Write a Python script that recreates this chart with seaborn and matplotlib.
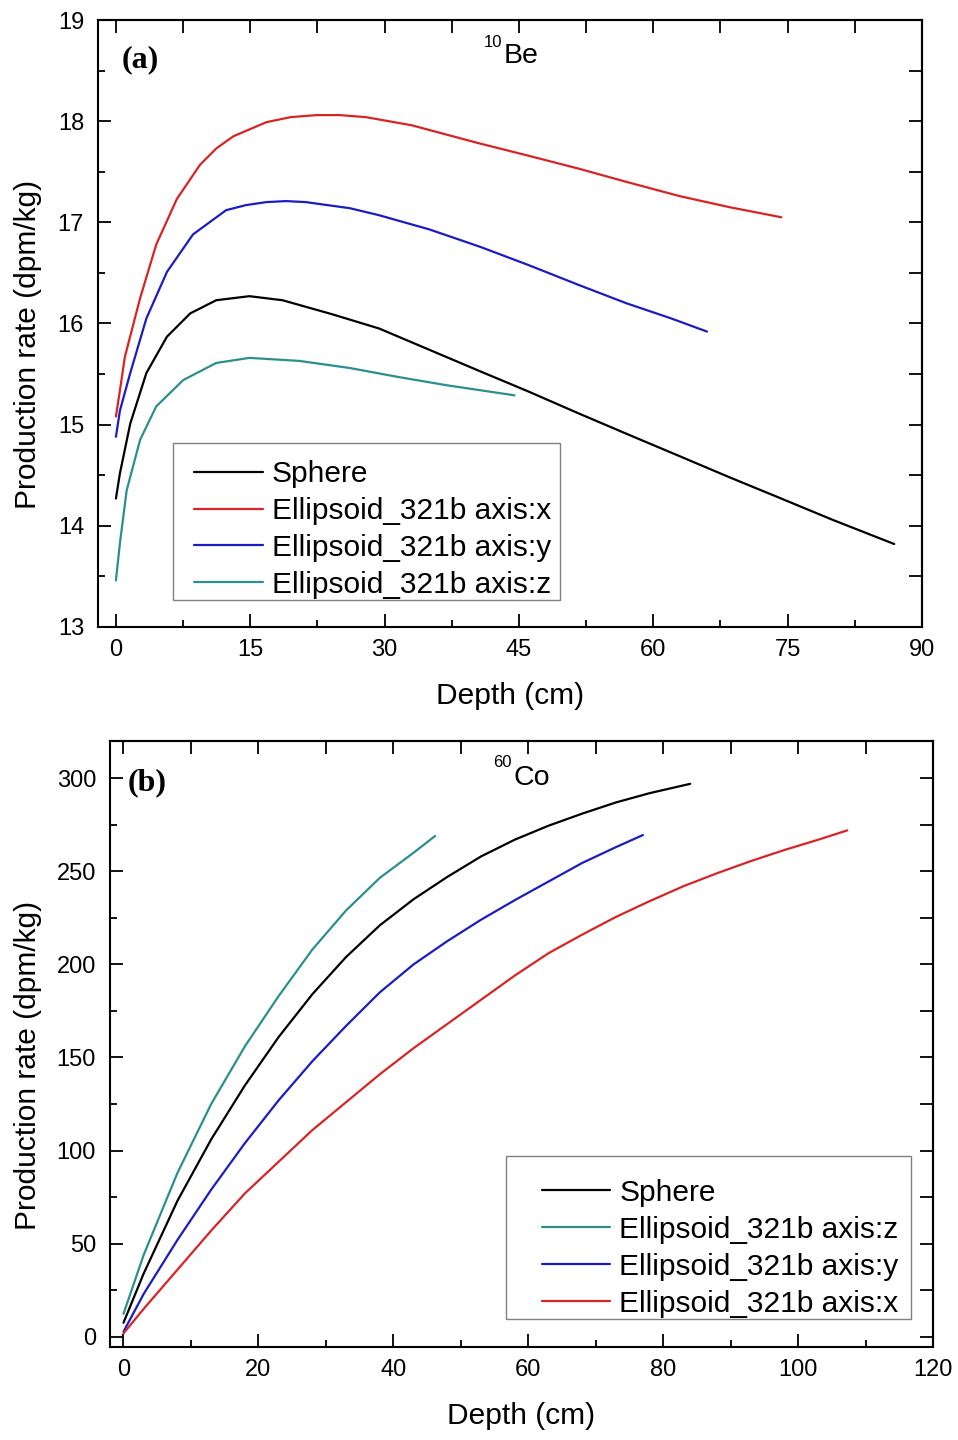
import numpy as np
import pandas as pd
import matplotlib
matplotlib.use("Agg")
import matplotlib.pyplot as plt
from matplotlib.lines import Line2D
from matplotlib.patches import Rectangle
from matplotlib.ticker import MultipleLocator
import seaborn as sns

# ---------------- Panel (a): 10Be ----------------
be_sphere_x = [0, 0.45, 1.6, 3.4, 5.7, 8.3, 11.2, 14.9, 18.6, 24.2, 29.4, 35, 40.6, 46, 51.7, 57, 62.9, 68.5, 74, 80, 86.9]
be_sphere_y = [14.27, 14.52, 15.01, 15.51, 15.87, 16.10, 16.23, 16.27, 16.23, 16.09, 15.95, 15.74, 15.53, 15.33, 15.11, 14.91, 14.69, 14.48, 14.28, 14.06, 13.82]

be_x_x = [0, 0.45, 1.0, 2.7, 4.5, 6.8, 9.4, 11.2, 13.1, 16.8, 19.5, 22.4, 25.0, 27.9, 33, 40.6, 46, 51.7, 57, 62.9, 68.5, 74.3]
be_x_y = [15.08, 15.34, 15.67, 16.25, 16.78, 17.23, 17.57, 17.73, 17.85, 17.99, 18.04, 18.06, 18.06, 18.04, 17.96, 17.78, 17.66, 17.53, 17.40, 17.26, 17.15, 17.05]

be_y_x = [0, 0.45, 1.6, 3.4, 5.7, 8.6, 12.3, 14.5, 16.8, 19.0, 21.2, 26.1, 29.4, 35, 40.6, 46, 51.7, 57, 62, 66.0]
be_y_y = [14.88, 15.14, 15.51, 16.05, 16.51, 16.88, 17.12, 17.17, 17.20, 17.21, 17.20, 17.14, 17.07, 16.93, 16.76, 16.58, 16.38, 16.20, 16.05, 15.92]

be_z_x = [0, 0.45, 1.2, 2.7, 4.5, 7.5, 11.2, 14.9, 20.5, 26.1, 31.6, 36.9, 44.5]
be_z_y = [13.46, 13.83, 14.35, 14.85, 15.18, 15.44, 15.61, 15.66, 15.63, 15.56, 15.47, 15.39, 15.29]

# ---------------- Panel (b): 60Co ----------------
co_sphere_x = [0, 3, 8, 13, 18, 23, 28, 33, 38, 43, 48, 53, 58, 63, 68, 73, 78, 84]
co_sphere_y = [7.5, 34, 73, 106, 135, 161, 184, 204, 221, 235, 247, 258, 267, 274.5, 281, 287, 292, 297]

co_z_x = [0, 3, 8, 13, 18, 23, 28, 33, 38, 43, 46.2]
co_z_y = [12.3, 44, 88, 125, 156, 183, 208, 229, 246.5, 260, 269]

co_y_x = [0, 3, 8, 13, 18, 23, 28, 33, 38, 43, 48, 53, 58, 63, 68, 73, 77]
co_y_y = [2.7, 23, 52, 79, 104, 127, 148, 167, 185, 200, 212.5, 224, 234.5, 244.5, 254.5, 263, 269.5]

co_x_x = [0, 3, 8, 13, 18, 23, 28, 33, 38, 43, 48, 53, 58, 63, 68, 73, 78, 83, 88, 93, 98, 103, 107.3]
co_x_y = [1.8, 15, 36, 57, 77, 94, 111, 126, 141, 155, 168, 181, 194, 206, 216, 225.5, 234, 242, 249, 255.5, 261.5, 267, 272]

LBL_S = "Sphere"
LBL_X = "Ellipsoid_321b axis:x"
LBL_Y = "Ellipsoid_321b axis:y"
LBL_Z = "Ellipsoid_321b axis:z"

colors = {LBL_S: "#000000", LBL_X: "#d82424", LBL_Y: "#1c1cc4", LBL_Z: "#2b8f8f"}

order_a = [LBL_S, LBL_X, LBL_Y, LBL_Z]
order_b = [LBL_S, LBL_Z, LBL_Y, LBL_X]


def build(series):
    frames = [pd.DataFrame({"Depth": xs, "Rate": ys, "Series": name}) for name, xs, ys in series]
    return pd.concat(frames, ignore_index=True)


df_a = build([(LBL_S, be_sphere_x, be_sphere_y), (LBL_X, be_x_x, be_x_y),
              (LBL_Y, be_y_x, be_y_y), (LBL_Z, be_z_x, be_z_y)])
df_b = build([(LBL_S, co_sphere_x, co_sphere_y), (LBL_Z, co_z_x, co_z_y),
              (LBL_Y, co_y_x, co_y_y), (LBL_X, co_x_x, co_x_y)])

sns.set_theme(style="ticks")
plt.rcParams["font.family"] = ["Liberation Sans", "DejaVu Sans"]
plt.rcParams["axes.edgecolor"] = "black"
plt.rcParams["xtick.color"] = "black"
plt.rcParams["ytick.color"] = "black"
plt.rcParams["text.color"] = "black"
plt.rcParams["axes.labelcolor"] = "black"

fig = plt.figure(figsize=(9.58, 14.4), dpi=100)
ax1 = fig.add_axes([0.1023, 0.5646, 0.8601, 0.4215])
ax2 = fig.add_axes([0.1148, 0.0646, 0.8591, 0.4208])

LW = 1.6


def style_axis(ax, xlim, ylim, xmaj, xmin, ymaj, ymin):
    ax.set_xlim(*xlim)
    ax.set_ylim(*ylim)
    ax.xaxis.set_major_locator(MultipleLocator(xmaj))
    ax.xaxis.set_minor_locator(MultipleLocator(xmin))
    ax.yaxis.set_major_locator(MultipleLocator(ymaj))
    ax.yaxis.set_minor_locator(MultipleLocator(ymin))
    ax.tick_params(which="both", direction="in", top=False, right=False, width=1.3, labelsize=17)
    ax.tick_params(which="major", length=9.5)
    ax.tick_params(which="minor", length=5)
    ax.tick_params(axis="y", pad=10)
    ax.tick_params(axis="x", pad=9)
    for s in ax.spines.values():
        s.set_visible(True)
        s.set_linewidth(1.5)
        s.set_color("black")
    sx = ax.secondary_xaxis("top")
    sx.xaxis.set_major_locator(MultipleLocator(xmin))
    sx.tick_params(which="major", direction="in", length=9.5, width=1.3, labeltop=False, labelbottom=False)
    sx.tick_params(which="minor", length=0)
    sx.spines["top"].set_linewidth(1.5)
    sy = ax.secondary_yaxis("right")
    sy.yaxis.set_major_locator(MultipleLocator(ymin))
    sy.tick_params(which="major", direction="in", length=9.5, width=1.3, labelright=False, labelleft=False)
    sy.tick_params(which="minor", length=0)
    sy.spines["right"].set_linewidth(1.5)


def draw(ax, df, order):
    sns.lineplot(data=df, x="Depth", y="Rate", hue="Series", hue_order=order,
                 palette=colors, estimator=None, sort=False, linewidth=LW,
                 legend=False, ax=ax)


draw(ax1, df_a, order_a)
draw(ax2, df_b, order_b)

style_axis(ax1, (-2, 90), (13, 19), 15, 7.5, 1, 0.5)
style_axis(ax2, (-2, 120), (-5.5, 320), 20, 10, 50, 25)

for ax, xly, ylx in [(ax1, -0.0906, -0.068), (ax2, -0.0908, -0.0826)]:
    ax.set_xlabel("Depth (cm)", fontsize=21.5)
    ax.set_ylabel("Production rate (dpm/kg)", fontsize=21.5)
    ax.xaxis.set_label_coords(0.5, xly)
    ax.yaxis.set_label_coords(ylx, 0.465)


def make_legend(ax, order, frame, anchor):
    x0, y0, x1, y1 = frame
    ax.add_patch(Rectangle((x0, y0), x1 - x0, y1 - y0, transform=ax.transAxes,
                           facecolor="white", edgecolor="#808080", linewidth=1.0,
                           zorder=4))
    handles = [Line2D([0], [0], color=colors[n], lw=LW) for n in order]
    leg = ax.legend(handles, order, fontsize=21.5, frameon=False, handlelength=2.3,
                    handletextpad=0.3, labelspacing=0.3, borderpad=0, borderaxespad=0,
                    loc="upper left", bbox_to_anchor=anchor)
    leg.set_zorder(5)
    return leg


make_legend(ax1, order_a, (0.091, 0.0445, 0.5607, 0.3031), (0.1165, 0.2751))
make_legend(ax2, order_b, (0.4812, 0.0462, 0.9733, 0.3152), (0.5245, 0.2778))

serif = ["Liberation Serif", "DejaVu Serif"]
ax1.text(0.029, 0.935, "(a)", transform=ax1.transAxes, fontsize=23, fontweight="bold",
         family=serif, ha="left", va="center")
ax2.text(0.022, 0.931, "(b)", transform=ax2.transAxes, fontsize=23, fontweight="bold",
         family=serif, ha="left", va="center")

ax1.text(0.4922, 0.9291, "Be", transform=ax1.transAxes, fontsize=20.5, ha="left", va="baseline")
ax1.text(0.4905, 0.9555, "10", transform=ax1.transAxes, fontsize=12, ha="right", va="baseline")
ax2.text(0.4897, 0.9274, "Co", transform=ax2.transAxes, fontsize=20.5, ha="left", va="baseline")
ax2.text(0.4875, 0.957, "60", transform=ax2.transAxes, fontsize=12, ha="right", va="baseline")

fig.savefig("out.png", dpi=100, facecolor="white")
